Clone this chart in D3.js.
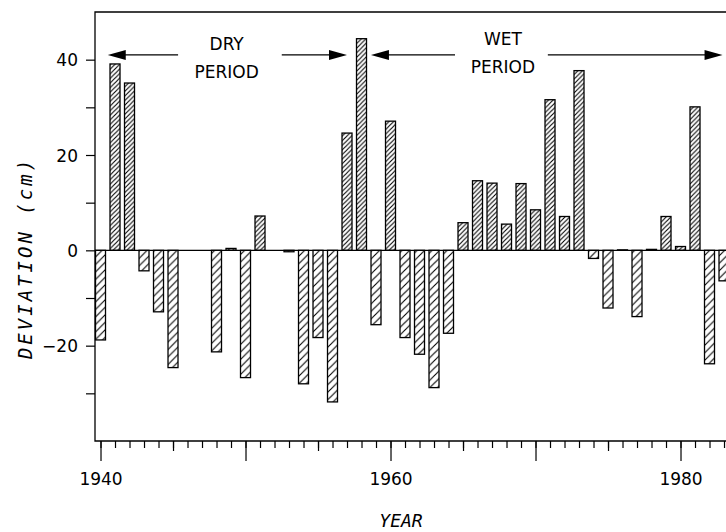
<!DOCTYPE html>
<html>
  <head>
    <meta charset="utf-8">
    <script src="https://d3js.org/d3.v7.min.js"></script>
    <title>Deviation by year</title>
    <style>
      body {
        margin: 0px;
        background: #fff;
      }
      svg {
        display: block;
      }
      .domain {
        display: none;
      }
      .tick line {
        stroke: #000;
        stroke-width: 1.2;
      }
      .tick text {
        fill: #000;
        font-size: 17px;
        font-family: "DejaVu Sans", sans-serif;
      }
      .axis-label {
        fill: #000;
        font-size: 19px;
        font-style: italic;
        font-family: "DejaVu Sans Mono", monospace;
      }
      .note {
        fill: #000;
        font-size: 17px;
        font-family: "DejaVu Sans", sans-serif;
        text-anchor: middle;
      }
    </style>
  </head>
  <body>
    <svg width="726" height="532"></svg>
    <script>

      // annual deviation (cm), 1940..1983 (0 = no bar drawn)
      const years = d3.range(1940, 1984);
      const deviation = [
        -18.8, 39.1, 35.1, -4.3, -12.9, -24.6, 0, 0, -21.3, 0.4,
        -26.7, 7.2, 0, -0.3, -28.0, -18.3, -31.8, 24.6, 44.4, -15.6,
        27.1, -18.3, -21.8, -28.8, -17.4, 5.8, 14.6, 14.1, 5.5, 14.0,
        8.5, 31.6, 7.1, 37.7, -1.7, -12.1, 0.1, -13.9, 0.2, 7.1,
        0.8, 30.1, -23.8, -6.4
      ];
      const yTickValues = [-30, -20, -10, 0, 10, 20, 30, 40];
      const yLabelValues = [-20, 0, 20, 40];
      const xMajorTicks = [1940, 1950, 1960, 1970, 1980];
      const xMidTicks = [1945, 1955, 1965, 1975];
      const xLabelValues = [1940, 1960, 1980];

      // period annotations: arrow span (years), gap in the line, label lines
      const periods = [
        { lines: ['DRY', 'PERIOD'], from: 1940.5, gapFrom: 1945.35, gapTo: 1952.5, to: 1957.0, mid: 1948.7, lineY: [42.0, 36.1] },
        { lines: ['WET', 'PERIOD'], from: 1958.65, gapFrom: 1964.45, gapTo: 1970.85, to: 1982.9, mid: 1967.75, lineY: [43.1, 37.2] }
      ];
      const arrowY = 41.0;

      const data = years.map((yr, i) => ({ year: yr, value: deviation[i] }));

      const svg = d3.select('svg');
      const plotLeft = 95, plotTop = 12, plotBottom = 441, plotRight = 760;

      const xScale = d3.scaleLinear()
        .domain([1939.62, 1939.62 + (plotRight - plotLeft) / 14.5])
        .range([plotLeft, plotRight]);
      const yScale = d3.scaleLinear()
        .domain([-40, 50])
        .range([plotBottom, plotTop]);

      const defs = svg.append('defs');
      const hatch = (id, s) => {
        defs.append('pattern')
            .attr('id', id)
            .attr('patternUnits', 'userSpaceOnUse')
            .attr('width', s)
            .attr('height', s)
          .append('path')
            .attr('d', `M${-s / 2},${s / 2} l${s},${-s} M0,${s} l${s},${-s} M${s / 2},${s * 1.5} l${s},${-s}`)
            .attr('stroke', '#000')
            .attr('stroke-width', 1.1);
      };
      hatch('hatchPos', 4.6);
      hatch('hatchNeg', 7.5);

      // bars
      const barW = 10;
      svg.append('g').selectAll('rect')
        .data(data.filter(d => d.value !== 0))
        .enter().append('rect')
          .attr('x', d => xScale(d.year) - barW / 2)
          .attr('y', d => yScale(Math.max(0, d.value)))
          .attr('width', barW)
          .attr('height', d => Math.abs(yScale(d.value) - yScale(0)))
          .attr('fill', d => d.value > 0 ? 'url(#hatchPos)' : 'url(#hatchNeg)')
          .attr('stroke', '#000')
          .attr('stroke-width', 1.3);

      // frame and zero line
      const frame = svg.append('g')
          .attr('stroke', '#000')
          .attr('stroke-width', 1.3)
          .attr('fill', 'none');
      frame.append('path')
          .attr('d', `M${plotRight},${plotTop} H${plotLeft} V${plotBottom} H${plotRight}`);
      frame.append('line')
          .attr('x1', plotLeft).attr('x2', plotRight)
          .attr('y1', yScale(0)).attr('y2', yScale(0));

      // y axis
      const yAxisG = svg.append('g')
          .attr('transform', `translate(${plotLeft},0)`)
          .call(d3.axisLeft(yScale)
            .tickValues(yTickValues)
            .tickSize(9)
            .tickPadding(8)
            .tickFormat(d => yLabelValues.includes(d) ? d3.format('d')(d) : ''));
      yAxisG.selectAll('.tick text').attr('dy', '0.36em');

      // x axis: minor, mid and major ticks
      const xAxisG = svg.append('g')
          .attr('transform', `translate(0,${plotBottom})`);
      xAxisG.append('g')
          .call(d3.axisBottom(xScale).tickValues(years).tickSize(7).tickFormat(''));
      xAxisG.append('g')
          .call(d3.axisBottom(xScale).tickValues(xMidTicks).tickSize(10).tickFormat(''));
      xAxisG.append('g')
          .call(d3.axisBottom(xScale)
            .tickValues(xMajorTicks)
            .tickSize(20)
            .tickPadding(12)
            .tickFormat(d => xLabelValues.includes(d) ? String(d) : ''));

      // axis titles
      svg.append('text')
          .attr('class', 'axis-label')
          .attr('text-anchor', 'middle')
          .style('font-size', '18px')
          .attr('x', 401)
          .attr('y', 527)
          .text('YEAR');
      svg.append('text')
          .attr('class', 'axis-label')
          .attr('text-anchor', 'middle')
          .attr('letter-spacing', '3px')
          .attr('transform', 'translate(32,258) rotate(-90)')
          .text('DEVIATION (cm)');

      // period annotations
      const ann = svg.append('g');
      periods.forEach(p => {
        const yA = yScale(arrowY);
        ann.append('line')
            .attr('x1', xScale(p.from) + 16).attr('x2', xScale(p.gapFrom))
            .attr('y1', yA).attr('y2', yA)
            .attr('stroke', '#000').attr('stroke-width', 1.3);
        ann.append('line')
            .attr('x1', xScale(p.gapTo)).attr('x2', xScale(p.to) - 16)
            .attr('y1', yA).attr('y2', yA)
            .attr('stroke', '#000').attr('stroke-width', 1.3);
        const xl = xScale(p.from), xr = xScale(p.to);
        ann.append('path')
            .attr('d', `M${xl},${yA} L${xl + 18},${yA - 5} L${xl + 18},${yA + 5} Z`)
            .attr('fill', '#000');
        ann.append('path')
            .attr('d', `M${xr},${yA} L${xr - 18},${yA - 5} L${xr - 18},${yA + 5} Z`)
            .attr('fill', '#000');
        p.lines.forEach((t, i) => {
          ann.append('text')
              .attr('class', 'note')
              .attr('x', xScale(p.mid))
              .attr('y', yScale(p.lineY[i]))
              .text(t);
        });
      });
    </script>
  </body>
</html>
